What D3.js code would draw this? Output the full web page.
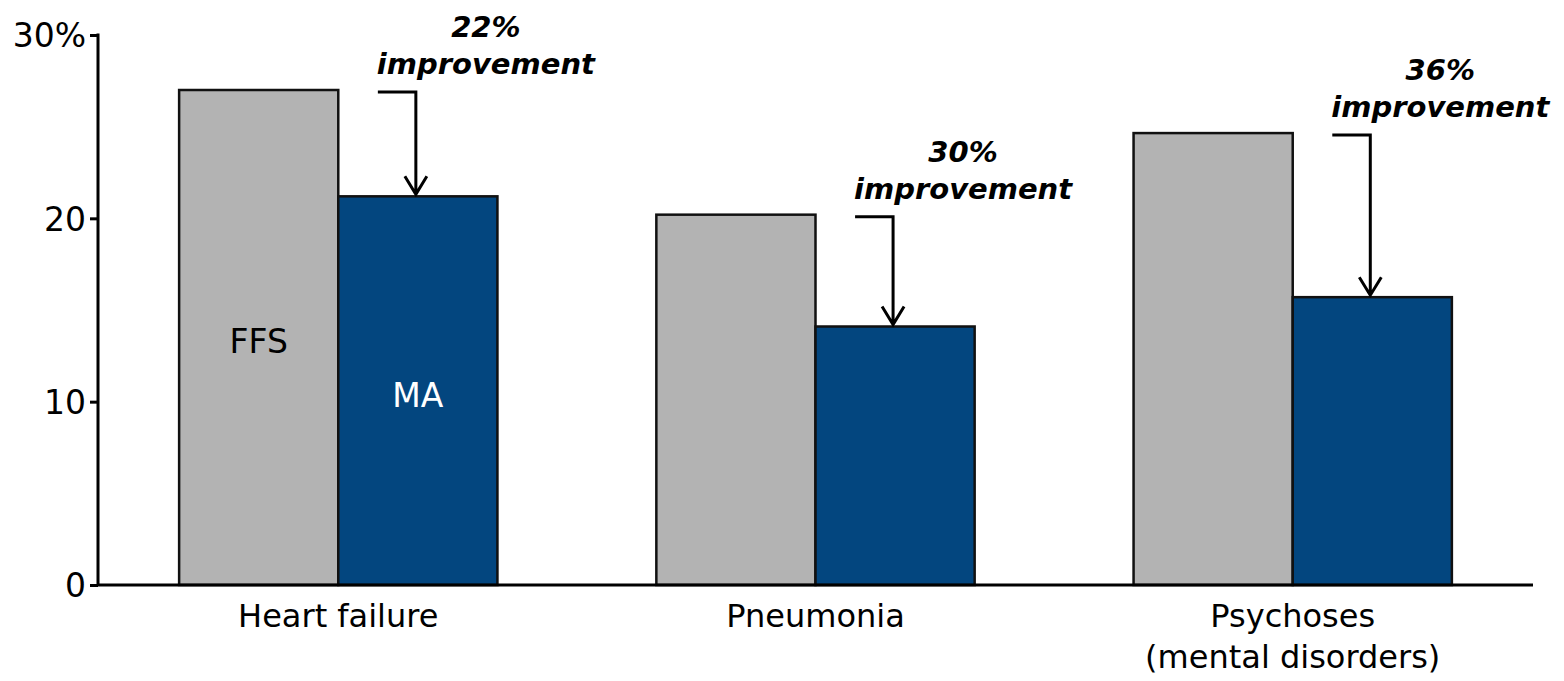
<!DOCTYPE html>
<html>
<head>
<meta charset="utf-8">
<script src="https://cdn.jsdelivr.net/npm/d3@7"></script>
<style>
  body { margin: 0; background: #fff; }
  text { font-family: "DejaVu Sans", Verdana, sans-serif; }
</style>
</head>
<body>
<div id="chart"></div>
<script>
// data
var categories = ["Heart failure", "Pneumonia", "Psychoses\n(mental disorders)"];
var series = ["FFS", "MA"];
var ffsValues = [27.0, 20.2, 24.65];
var maValues = [21.2, 14.1, 15.7];
var improvements = ["22%", "30%", "36%"];
var yTicks = [0, 10, 20, 30];

var outWidth = 1564, outHeight = 681;
var colors = {FFS: "#b3b3b3", MA: "#03467f"};

var svg = d3.select("#chart").append("svg")
    .attr("width", outWidth)
    .attr("height", outHeight);

// scales
var xScale = d3.scaleBand()
    .domain(categories)
    .range([98, 1533])
    .paddingInner(0.333)
    .paddingOuter(0.17);
var xInner = d3.scaleBand()
    .domain(series)
    .range([0, xScale.bandwidth()]);
var yScale = d3.scaleLinear()
    .domain([0, 30])
    .range([585, 35]);

var rows = categories.map(function(c, i) {
  return {cat: c, FFS: ffsValues[i], MA: maValues[i], imp: improvements[i]};
});

// bars
var groups = svg.selectAll(".grp")
    .data(rows)
    .enter().append("g")
    .attr("class", "grp")
    .attr("transform", function(d) { return "translate(" + xScale(d.cat) + ",0)"; });

groups.selectAll("rect")
    .data(function(d) { return series.map(function(s) { return {key: s, value: d[s]}; }); })
    .enter().append("rect")
    .attr("x", function(d) { return xInner(d.key); })
    .attr("y", function(d) { return yScale(d.value); })
    .attr("width", xInner.bandwidth())
    .attr("height", function(d) { return yScale(0) - yScale(d.value); })
    .attr("fill", function(d) { return colors[d.key]; })
    .attr("stroke", "#111")
    .attr("stroke-width", 2.5);

// series labels inside first group
var first = groups.filter(function(d, i) { return i === 0; });
first.append("text")
    .attr("x", xInner("FFS") + xInner.bandwidth() / 2)
    .attr("y", 353)
    .attr("text-anchor", "middle")
    .style("font-size", "33px")
    .attr("fill", "#000")
    .text("FFS");
first.append("text")
    .attr("x", xInner("MA") + xInner.bandwidth() / 2)
    .attr("y", 407)
    .attr("text-anchor", "middle")
    .style("font-size", "33px")
    .attr("fill", "#fff")
    .text("MA");

// y axis
var yAxis = d3.axisLeft(yScale)
    .tickValues(yTicks)
    .tickSize(8)
    .tickSizeOuter(0)
    .tickPadding(4)
    .tickFormat(function(d) { return d === 30 ? "30%" : d; });
var yg = svg.append("g")
    .attr("transform", "translate(98,0)")
    .call(yAxis);
yg.select(".domain").attr("stroke", "#000").attr("stroke-width", 3)
    .attr("d", "M0," + (yScale(30) - 1.5) + "V" + yScale(0));
yg.selectAll(".tick line").attr("stroke-width", 3);
yg.selectAll(".tick text")
    .style("font-size", "33px")
    .attr("fill", "#000")
    .attr("dy", "0.36em");

// x axis line
svg.append("line")
    .attr("x1", 98).attr("x2", 1533)
    .attr("y1", yScale(0)).attr("y2", yScale(0))
    .attr("stroke", "#000")
    .attr("stroke-width", 3);

// category labels
svg.selectAll(".cat")
    .data(rows)
    .enter().append("text")
    .attr("class", "cat")
    .attr("x", function(d) { return xScale(d.cat) + xScale.bandwidth() / 2; })
    .attr("y", 627)
    .attr("text-anchor", "middle")
    .style("font-size", "32px")
    .attr("fill", "#000")
    .each(function(d) {
      var lines = d.cat.split("\n");
      var t = d3.select(this);
      lines.forEach(function(l, i) {
        t.append("tspan")
          .attr("x", t.attr("x"))
          .attr("dy", i === 0 ? 0 : 41)
          .text(l);
      });
    });

// improvement arrows
var ann = svg.selectAll(".ann")
    .data(rows)
    .enter().append("g")
    .attr("class", "ann");

ann.append("path")
    .attr("fill", "none")
    .attr("stroke", "#000")
    .attr("stroke-width", 3)
    .attr("d", function(d) {
      var ax = xScale(d.cat) + xInner("MA") + xInner.bandwidth() / 2 - 2;
      var y0 = yScale(d.FFS) + 2, y1 = yScale(d.MA) - 2;
      return "M" + (ax - 38) + "," + y0 + "H" + ax + "V" + y1 +
             "M" + (ax - 11) + "," + (y1 - 18) + "L" + ax + "," + y1 + "L" + (ax + 11) + "," + (y1 - 18);
    });

ann.append("text")
    .attr("text-anchor", "middle")
    .style("font-size", "29px")
    .style("font-weight", "bold")
    .style("font-style", "italic")
    .attr("fill", "#000")
    .each(function(d) {
      var ax = xScale(d.cat) + xInner("MA") + xInner.bandwidth() / 2;
      var y0 = yScale(d.FFS) + 2;
      var t = d3.select(this);
      t.append("tspan").attr("x", ax + 68).attr("y", y0 - 55).text(d.imp);
      t.append("tspan").attr("x", ax + 68).attr("y", y0 - 18).text("improvement");
    });
</script>
</body>
</html>
